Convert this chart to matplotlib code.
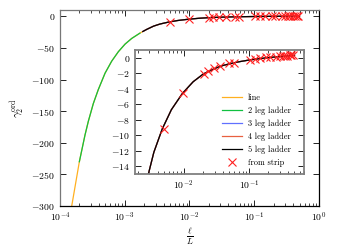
import matplotlib
matplotlib.use("Agg")
import matplotlib.pyplot as plt
import numpy as np

plt.rcParams['font.family'] = 'serif'
plt.rcParams['font.serif'] = ['cmr10', 'DejaVu Serif']
plt.rcParams['mathtext.fontset'] = 'cm'
plt.rcParams['axes.formatter.use_mathtext'] = True
plt.rcParams['axes.unicode_minus'] = True

# curve (l/L, gamma_2^ord)
curve_x = [1.5e-4, 1.99e-4, 2.43e-4, 2.74e-4, 3.27e-4, 3.9e-4, 4.96e-4, 6.28e-4,
           7.96e-4, 1.01e-3, 1.28e-3, 1.72e-3, 1.9e-3, 2.2e-3, 2.79e-3, 3.5e-3,
           4.7e-3, 6.5e-3, 9.6e-3, 0.014, 0.02, 0.0243, 0.0318, 0.04, 0.0589,
           0.0727, 0.1, 0.15, 0.25, 0.35, 0.5]
curve_y = [-303, -230, -188, -166, -138, -116, -90, -71,
           -56, -44, -35, -26.5, -24, -20.5, -15.5, -12.2,
           -9.2, -6.7, -4.6, -3.1, -2.1, -1.75, -1.3, -1.0, -0.65,
           -0.5, -0.3, -0.1, 0.1, 0.2, 0.3]

# x-ranges covered by each series
series_names = ["line", "2 leg ladder", "3 leg ladder", "4 leg ladder", "5 leg ladder"]
series_xmin = [1.5e-4, 1.99e-4, 1.9e-3, 1.9e-3, 1.9e-3]
series_xmax = [0.5, 1.72e-3, 0.5, 0.5, 0.5]
series_colors = ["#FFB020", "#10C040", "#6070FF", "#E86040", "#000000"]

# strip data points
strip_x = [0.005, 0.0099, 0.0202, 0.0233, 0.0289, 0.0366, 0.0505, 0.0588,
           0.103, 0.123, 0.147, 0.186, 0.209, 0.265, 0.30, 0.33, 0.36,
           0.39, 0.42, 0.45, 0.48]
strip_y = [-9.2, -4.6, -2.05, -1.75, -1.35, -1.05, -0.72, -0.62,
           -0.25, -0.15, -0.05, 0.05, 0.1, 0.15, 0.2, 0.2, 0.25,
           0.25, 0.3, 0.3, 0.3]

main_yticks = [0, -50, -100, -150, -200, -250, -300]
inset_yticks = [0, -2, -4, -6, -8, -10, -12, -14]

fig = plt.figure(figsize=(3.38, 2.5), dpi=100)
ax = fig.add_axes([0.1775, 0.176, 0.7663, 0.784])
axi = fig.add_axes([0.3994, 0.304, 0.50, 0.496])

cx = np.array(curve_x)
cy = np.array(curve_y)

def draw(a):
    for name, lo, hi, col in zip(series_names, series_xmin, series_xmax, series_colors):
        m = (cx >= lo) & (cx <= hi)
        a.plot(cx[m], cy[m], color=col, lw=0.9, label=name)
    a.plot(strip_x, strip_y, ls='none', marker='x', color='#FF2020',
           ms=6, mew=0.8, label='from strip')
    a.set_xscale('log')
    a.tick_params(which='both', direction='in', top=True, right=True,
                  labelsize=7, pad=3.5)
    a.tick_params(which='major', length=4, width=0.6)
    a.tick_params(which='minor', length=2.2, width=0.5)

draw(ax)
ax.set_xlim(1e-4, 1)
ax.set_ylim(-300, 10)
ax.set_yticks(main_yticks)
ax.set_xticks([1e-4, 1e-3, 1e-2, 1e-1, 1])
ax.set_xlabel(r'$\frac{\ell}{L}$', fontsize=9, labelpad=1)
ax.set_ylabel(r'$\gamma_2^{\rm ord}$', fontsize=8, labelpad=4)
for s in ['left', 'top']:
    ax.spines[s].set_color('#777777')
for s in ['right', 'bottom']:
    ax.spines[s].set_color('black')
for s in ax.spines.values():
    s.set_linewidth(0.9)

draw(axi)
axi.set_xlim(1.8e-3, 0.7)
axi.set_ylim(-15, 1)
axi.set_yticks(inset_yticks)
axi.set_xticks([1e-2, 1e-1])
for s in axi.spines.values():
    s.set_color('#808080')
    s.set_linewidth(1.3)
axi.legend(loc='lower right', frameon=False, fontsize=6, handlelength=2.4,
           labelspacing=0.55, handletextpad=0.7, borderaxespad=0.4,
           bbox_to_anchor=(0.96, 0.0))

fig.savefig('out.png', dpi=100)
